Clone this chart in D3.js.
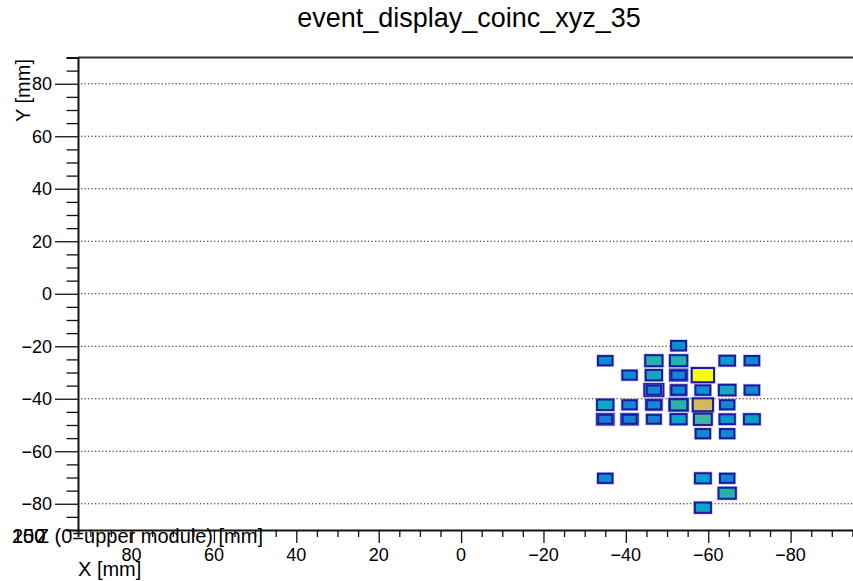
<!DOCTYPE html>
<meta charset="utf-8">
<script src="https://d3js.org/d3.v7.min.js"></script>
<style>
  body { margin: 0; background: #fff; }
  text { font-family: "Liberation Sans", Arial, Helvetica, sans-serif; }
</style>
<svg id="chart" width="853" height="581"></svg>
<script>

// hits in the front layer: x [mm], y [mm], content
const hitX = [-52.8,
  -35.0, -46.8, -52.8, -64.6, -70.6,
  -40.9, -46.8, -52.8, -58.7,
  -46.8, -52.8, -58.7, -64.6, -70.6,
  -35.0, -40.9, -46.8, -52.8, -58.7, -64.6,
  -35.0, -40.9, -46.8, -52.8, -58.7, -64.6, -70.6,
  -58.7, -64.6,
  -35.0, -58.7, -64.6,
  -64.6,
  -58.7];
const hitY = [-19.8,
  -25.5, -25.5, -25.5, -25.5, -25.5,
  -31.0, -31.0, -31.0, -31.0,
  -36.7, -36.7, -36.7, -36.7, -36.7,
  -42.3, -42.3, -42.3, -42.3, -42.3, -42.3,
  -47.8, -47.8, -47.8, -47.8, -47.8, -47.8, -47.8,
  -53.3, -53.3,
  -70.3, -70.3, -70.3,
  -76.0,
  -81.5];
const hitC = [30,
  28, 47, 47, 34, 28,
  27, 40, 27, 100,
  27, 27, 30, 42, 28,
  40, 27, 27, 48, 75, 27,
  25, 25, 25, 38, 52, 33, 36,
  28, 27,
  28, 36, 27,
  47,
  38];

// hits hidden behind (other z layer)
const backX = [-52.8, -46.8, -52.8, -46.8, -52.8, -35.0, -40.9];
const backY = [-31.0, -36.7, -36.7, -42.3, -42.3, -47.8, -47.8];
const backC = [45, 62, 35, 35, 60, 42, 40];

const yTicks = [-80, -60, -40, -20, 0, 20, 40, 60, 80];
const xTicks = [80, 60, 40, 20, 0, -20, -40, -60, -80];
const zLabels = ["250", "100"];

// kBird palette
const birdStops = [0, 12.5, 25, 37.5, 50, 62.5, 75, 87.5, 100];
const birdColors = ["#352a87", "#0f5cdd", "#1481d6", "#06a4ca", "#2eb7a4",
                    "#87bf77", "#d1bb59", "#fec832", "#f9fb0e"];

const svg = d3.select("#chart");
const padL = 78, padT = 57.5, axisY = 530, padR = 873;

const x = d3.scaleLinear().domain([93, -100]).range([padL, padR]);
const y = d3.scaleLinear().domain([-90, 90]).range([axisY, padT]);
const color = d3.scaleLinear().domain(birdStops).range(birdColors);
// box volume ~ content
const side = c => 5.4 * Math.cbrt(c / 100);

// title
svg.append("text")
  .attr("x", 469).attr("y", 27)
  .attr("text-anchor", "middle")
  .attr("font-size", 27)
  .text("event_display_coinc_xyz_35");

// grid
svg.append("g")
  .selectAll("line")
  .data(yTicks)
  .join("line")
    .attr("x1", padL + 3).attr("x2", 853)
    .attr("y1", d => y(d)).attr("y2", d => y(d))
    .attr("stroke", "#222")
    .attr("stroke-width", 1)
    .attr("stroke-dasharray", "1.3,2.2");

// top frame
svg.append("line")
  .attr("x1", padL).attr("x2", 853)
  .attr("y1", padT).attr("y2", padT)
  .attr("stroke", "#333").attr("stroke-width", 2);

// x axis
const xAxis = svg.append("g")
  .attr("transform", `translate(0,${axisY})`)
  .call(d3.axisBottom(x).tickValues(d3.range(-100, 95, 5)).tickSize(7).tickFormat(""));
xAxis.call(g => g.select(".domain").attr("stroke-width", 2).attr("stroke", "#111"));
xAxis.selectAll(".tick line").attr("stroke", "#111").attr("stroke-width", 1.3);
xAxis.selectAll(".tick")
  .filter(d => d % 20 === 0)
  .select("line").attr("y2", 13);
svg.append("g")
  .selectAll("text")
  .data(xTicks)
  .join("text")
    .attr("x", d => x(d))
    .attr("y", 561)
    .attr("text-anchor", "middle")
    .attr("font-size", 18)
    .text(d => d3.format("")(d));

// y axis
const yAxis = svg.append("g")
  .attr("transform", `translate(${padL},0)`)
  .call(d3.axisLeft(y).tickValues(d3.range(-90, 91, 5)).tickSize(11.5).tickFormat(""));
yAxis.call(g => g.select(".domain").attr("stroke-width", 2).attr("stroke", "#111"));
yAxis.selectAll(".tick line").attr("stroke", "#111").attr("stroke-width", 1.3);
yAxis.selectAll(".tick")
  .filter(d => d % 20 === 0)
  .select("line").attr("x2", -23);
svg.append("g")
  .selectAll("text")
  .data(yTicks)
  .join("text")
    .attr("x", 52)
    .attr("y", d => y(d))
    .attr("dy", "0.36em")
    .attr("text-anchor", "end")
    .attr("font-size", 18)
    .text(d => d3.format("")(d));

// axis titles
svg.append("text")
  .attr("transform", "translate(30,59) rotate(-90)")
  .attr("text-anchor", "end")
  .attr("font-size", 20)
  .text("Y [mm]");
svg.append("text")
  .attr("x", 78).attr("y", 576)
  .attr("font-size", 20)
  .text("X [mm]");

// collapsed z axis
svg.append("g")
  .selectAll("text")
  .data(zLabels)
  .join("text")
    .attr("x", 12).attr("y", 543)
    .attr("font-size", 20)
    .text(d => d);
svg.append("text")
  .attr("x", 263).attr("y", 543)
  .attr("text-anchor", "end")
  .attr("font-size", 20)
  .text("Z (0=upper module) [mm]");

// boxes
function drawBoxes(xs, ys, cs) {
  const g = svg.append("g");
  const data = xs.map((d, i) => ({x: d, y: ys[i], c: cs[i]}));
  g.selectAll("rect.halo")
    .data(data)
    .join("rect")
      .attr("class", "halo")
      .attr("x", d => x(d.x + side(d.c) / 2))
      .attr("y", d => y(d.y + side(d.c) / 2))
      .attr("width", d => x(d.x - side(d.c) / 2) - x(d.x + side(d.c) / 2))
      .attr("height", d => y(d.y - side(d.c) / 2) - y(d.y + side(d.c) / 2))
      .attr("fill", "none")
      .attr("stroke", "#8a8ae6")
      .attr("stroke-opacity", 0.5)
      .attr("stroke-width", 3.4);
  g.selectAll("rect.box")
    .data(data)
    .join("rect")
      .attr("class", "box")
      .attr("x", d => x(d.x + side(d.c) / 2))
      .attr("y", d => y(d.y + side(d.c) / 2))
      .attr("width", d => x(d.x - side(d.c) / 2) - x(d.x + side(d.c) / 2))
      .attr("height", d => y(d.y - side(d.c) / 2) - y(d.y + side(d.c) / 2))
      .attr("fill", d => color(d.c))
      .attr("stroke", "#1a1a9c")
      .attr("stroke-width", 2);
}
drawBoxes(backX, backY, backC);
drawBoxes(hitX, hitY, hitC);

</script>
